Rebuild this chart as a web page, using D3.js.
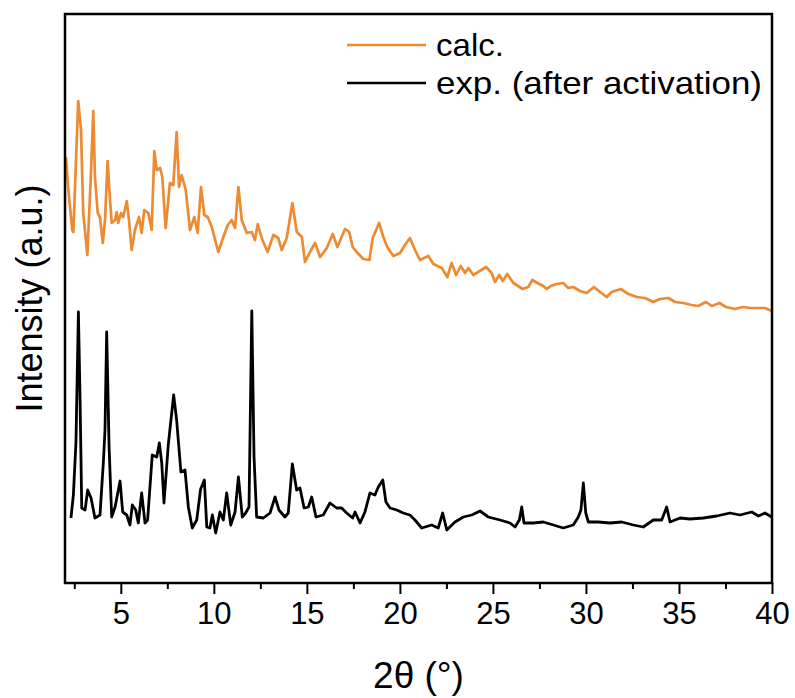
<!DOCTYPE html>
<html>
<head>
<meta charset="utf-8">
<script src="https://cdn.jsdelivr.net/npm/d3@7"></script>
<style>
  body { margin: 0; background: #fff; }
  svg { display: block; font-family: "Liberation Sans", Arial, sans-serif; }
</style>
</head>
<body>
<svg id="xrd" width="795" height="698"></svg>
<script>
// calc. pattern (2theta, intensity a.u.)
calcTheta = [2.05,2.18,2.39,2.45,2.71,2.86,2.98,3.20,3.38,3.52,3.61,3.76,3.88,4.03,4.15,4.29,4.42,4.51,4.69,4.78,4.86,5.01,5.13,5.32,5.44,5.58,5.76,5.98,6.12,6.26,6.48,6.66,6.80,6.93,7.11,7.23,7.41,7.64,7.82,8.00,8.13,8.27,8.49,8.72,8.95,9.13,9.31,9.49,9.67,9.89,10.24,10.51,10.75,10.96,11.14,11.32,11.50,11.77,12.04,12.21,12.36,12.57,12.89,13.20,13.46,13.65,13.92,14.22,14.46,14.73,14.90,15.17,15.44,15.71,16.07,16.39,16.64,17.05,17.28,17.46,17.68,18.03,18.36,18.54,18.88,19.11,19.32,19.65,20.01,20.27,20.54,20.81,21.08,21.53,21.80,22.25,22.55,22.78,23.02,23.27,23.50,23.68,23.95,24.21,24.63,24.93,25.11,25.34,25.53,25.77,26.10,26.60,26.90,27.12,27.39,27.71,27.89,28.11,28.43,28.78,29.05,29.32,29.68,30.04,30.43,30.76,31.12,31.38,31.87,32.28,32.73,33.17,33.62,33.98,34.43,34.79,35.23,35.68,36.04,36.45,36.76,37.17,37.53,38.01,38.43,38.82,39.18,39.62,39.98];
calcInt = [426,393,353,351,482,453,370,328,403,472,406,370,366,340,363,422,383,360,363,371,360,370,366,382,363,333,353,366,350,373,370,353,432,413,415,406,355,400,398,451,396,408,393,353,366,350,396,368,366,356,331,346,358,363,355,396,363,350,351,343,359,345,331,348,345,333,345,380,351,346,321,331,340,326,335,349,336,354,351,336,331,324,323,345,360,346,336,327,330,338,345,333,323,327,319,315,306,320,308,317,310,315,308,311,316,310,301,308,302,309,300,294,296,303,300,297,294,297,299,300,295,296,292,290,296,291,286,291,294,289,286,285,281,284,285,281,280,278,277,281,277,280,276,274,276,275,275,275,272];

// exp. (after activation) pattern
expTheta = [2.32,2.45,2.59,2.72,2.81,2.90,3.08,3.22,3.40,3.61,3.88,4.06,4.15,4.24,4.37,4.51,4.69,4.96,5.10,5.32,5.49,5.62,5.80,5.94,6.12,6.30,6.44,6.69,6.93,7.07,7.20,7.32,7.55,7.84,8.00,8.23,8.45,8.63,8.84,9.08,9.29,9.49,9.62,9.79,9.92,10.10,10.33,10.51,10.69,10.91,11.14,11.32,11.53,11.71,11.89,12.04,12.16,12.30,12.66,13.02,13.29,13.50,13.82,14.00,14.22,14.45,14.63,14.85,15.08,15.26,15.49,15.88,16.24,16.60,16.87,17.14,17.46,17.59,17.86,18.12,18.39,18.66,18.84,19.08,19.25,19.47,19.83,20.18,20.54,20.81,21.17,21.71,22.06,22.30,22.52,22.96,23.41,23.86,24.31,24.75,25.38,25.92,26.19,26.42,26.55,26.67,27.17,27.71,28.25,28.78,29.32,29.59,29.73,29.86,29.99,30.13,30.66,31.29,31.92,32.55,33.08,33.62,34.07,34.34,34.52,35.06,35.59,36.31,37.03,37.74,38.28,38.91,39.27,39.62,39.98];
expInt = [65,88,141,271,183,75,73,93,85,65,68,120,153,251,136,66,76,102,71,68,58,78,73,60,90,60,63,128,126,140,120,80,138,188,163,111,113,76,55,63,94,103,56,55,68,50,71,63,90,58,71,106,66,70,76,272,126,66,65,70,86,73,66,70,119,93,95,75,76,86,66,68,80,75,75,70,65,71,60,71,90,88,96,103,81,75,73,70,68,63,55,58,55,70,53,61,66,68,72,66,63,60,56,63,76,60,60,61,58,55,58,66,73,100,70,61,61,60,61,58,56,63,63,76,61,65,64,65,67,70,68,71,67,70,66];

xTicks = [5,10,15,20,25,30,35,40];
seriesNames = ["calc.", "exp. (after activation)"];
seriesColors = ["#EE8A31", "#000000"];

svg = d3.select("#xrd");
margin = {left: 65, right: 23, top: 14, bottom: 115};
W = 795 - margin.left - margin.right;
H = 698 - margin.top - margin.bottom;

x = d3.scaleLinear().domain([2, 40]).range([margin.left, margin.left + W]);
y = d3.scaleLinear().domain([0, 569]).range([margin.top + H, margin.top]);

line = d3.line().x(d => x(d[0])).y(d => y(d[1]));

calcData = calcTheta.map((t, i) => [t, calcInt[i]]);
expData = expTheta.map((t, i) => [t, expInt[i]]);

svg.append("path").datum(calcData)
    .attr("d", line)
    .attr("fill", "none")
    .attr("stroke", seriesColors[0])
    .attr("stroke-width", 2.7)
    .attr("stroke-linejoin", "round");

svg.append("path").datum(expData)
    .attr("d", line)
    .attr("fill", "none")
    .attr("stroke", seriesColors[1])
    .attr("stroke-width", 2.8)
    .attr("stroke-linejoin", "round");

// frame
svg.append("rect")
    .attr("x", margin.left).attr("y", margin.top)
    .attr("width", W).attr("height", H)
    .attr("fill", "none").attr("stroke", "#000").attr("stroke-width", 2.5);

// bottom axis, major + minor ticks
minor = d3.range(2.5, 40, 5);
svg.append("g")
    .attr("transform", `translate(0, ${margin.top + H})`)
    .call(d3.axisBottom(x).tickValues(minor).tickSize(6).tickFormat(""))
    .call(g => g.select(".domain").remove())
    .selectAll("line").attr("stroke-width", 2);

xAxis = svg.append("g")
    .attr("transform", `translate(0, ${margin.top + H})`)
    .call(d3.axisBottom(x).tickValues(xTicks).tickSize(11).tickPadding(8));
xAxis.select(".domain").remove();
xAxis.selectAll("line").attr("stroke-width", 2);
xAxis.selectAll("text")
    .attr("font-size", 31)
    .attr("font-family", "Liberation Sans, Arial, sans-serif")
    .attr("fill", "#000");

svg.append("text")
    .text("2θ (°)")
    .attr("x", margin.left + W / 2)
    .attr("y", 688)
    .attr("text-anchor", "middle")
    .attr("font-size", 37);

svg.append("text")
    .text("Intensity (a.u.)")
    .attr("transform", `translate(42, ${margin.top + H / 2}) rotate(-90)`)
    .attr("text-anchor", "middle")
    .attr("font-size", 36);

// legend
legend = svg.append("g");
seriesNames.forEach((name, i) => {
    ly = 45 + i * 38;
    legend.append("line")
        .attr("x1", 347).attr("x2", 426)
        .attr("y1", ly).attr("y2", ly)
        .attr("stroke", seriesColors[i])
        .attr("stroke-width", 2.5);
    legend.append("text")
        .text(name)
        .attr("x", 436)
        .attr("y", ly + 11)
        .attr("font-size", 32)
        .attr("textLength", i === 0 ? 68 : 326)
        .attr("lengthAdjust", "spacingAndGlyphs");
});
</script>
</body>
</html>
